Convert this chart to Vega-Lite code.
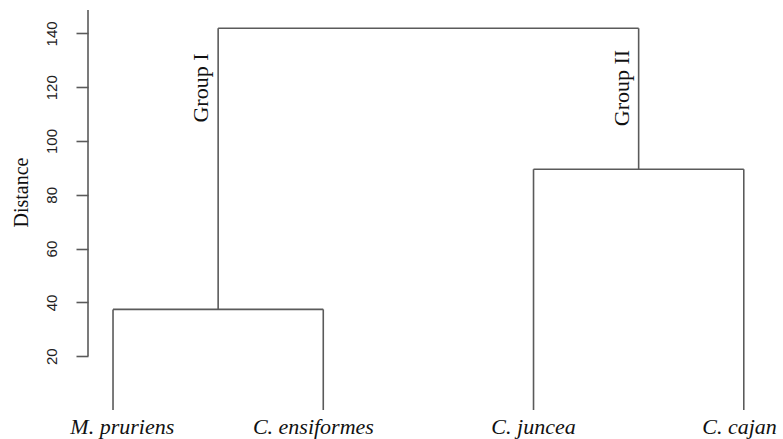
{
  "$schema": "https://vega.github.io/schema/vega-lite/v6.json",
  "width": 681,
  "height": 400,
  "autosize": {"type": "none"},
  "padding": {"left": 88, "top": 10, "right": 14, "bottom": 29},
  "background": "white",
  "config": {"view": {"stroke": null}},
  "datasets": {
    "segments": [
      {"x": 1, "x2": 1, "y": 0, "y2": 37.4},
      {"x": 2, "x2": 2, "y": 0, "y2": 37.4},
      {"x": 1, "x2": 2, "y": 37.4, "y2": 37.4},
      {"x": 3, "x2": 3, "y": 0, "y2": 89.5},
      {"x": 4, "x2": 4, "y": 0, "y2": 89.5},
      {"x": 3, "x2": 4, "y": 89.5, "y2": 89.5},
      {"x": 1.5, "x2": 1.5, "y": 37.4, "y2": 141.9},
      {"x": 3.5, "x2": 3.5, "y": 89.5, "y2": 141.9},
      {"x": 1.5, "x2": 3.5, "y": 141.9, "y2": 141.9}
    ],
    "axisline": [
      {"x": 0.881, "y": 20, "y2": 148.7}
    ],
    "leaves": [
      {"label": "M. pruriens", "x": 1.044, "y": 0},
      {"label": "C. ensiformes", "x": 1.953, "y": 0},
      {"label": "C. juncea", "x": 3.0, "y": 0},
      {"label": "C. cajan", "x": 3.98, "y": 0}
    ],
    "groups": [
      {"label": "Group I", "x": 1.5, "y": 119.7},
      {"label": "Group II", "x": 3.5, "y": 119.7}
    ]
  },
  "layer": [
    {
      "data": {"name": "segments"},
      "mark": {"type": "rule", "color": "#5a5a5a", "strokeWidth": 1.6},
      "encoding": {
        "x": {"field": "x", "type": "quantitative", "scale": {"domain": [0.881, 4.12], "nice": false, "zero": false}, "axis": null},
        "x2": {"field": "x2"},
        "y": {
          "field": "y", "type": "quantitative",
          "scale": {"domain": [0, 148.7], "nice": false, "zero": false},
          "axis": {
            "title": "Distance",
            "values": [20, 40, 60, 80, 100, 120, 140],
            "domain": false,
            "grid": false,
            "tickSize": 12,
            "tickColor": "#5a5a5a",
            "tickWidth": 1.6,
            "labelAngle": -90,
            "labelFont": "Liberation Sans",
            "labelFontSize": 15,
            "labelColor": "#222222",
            "labelPadding": 17,
            "titleFont": "Liberation Serif",
            "titleFontSize": 20,
            "titleFontWeight": "normal",
            "titleColor": "#111111",
            "titlePadding": 13,
            "titleY": 182
          }
        },
        "y2": {"field": "y2"}
      }
    },
    {
      "data": {"name": "axisline"},
      "mark": {"type": "rule", "color": "#5a5a5a", "strokeWidth": 1.6},
      "encoding": {
        "x": {"field": "x", "type": "quantitative"},
        "y": {"field": "y", "type": "quantitative"},
        "y2": {"field": "y2"}
      }
    },
    {
      "data": {"name": "leaves"},
      "mark": {"type": "text", "font": "Liberation Serif", "fontStyle": "italic", "fontSize": 22, "align": "center", "baseline": "alphabetic", "dy": 24, "color": "#111111"},
      "encoding": {
        "x": {"field": "x", "type": "quantitative"},
        "y": {"field": "y", "type": "quantitative"},
        "text": {"field": "label"}
      }
    },
    {
      "data": {"name": "groups"},
      "mark": {"type": "text", "font": "Liberation Serif", "fontSize": 22, "angle": 270, "align": "center", "baseline": "bottom", "dy": -5, "color": "#111111"},
      "encoding": {
        "x": {"field": "x", "type": "quantitative"},
        "y": {"field": "y", "type": "quantitative"},
        "text": {"field": "label"}
      }
    }
  ]
}
